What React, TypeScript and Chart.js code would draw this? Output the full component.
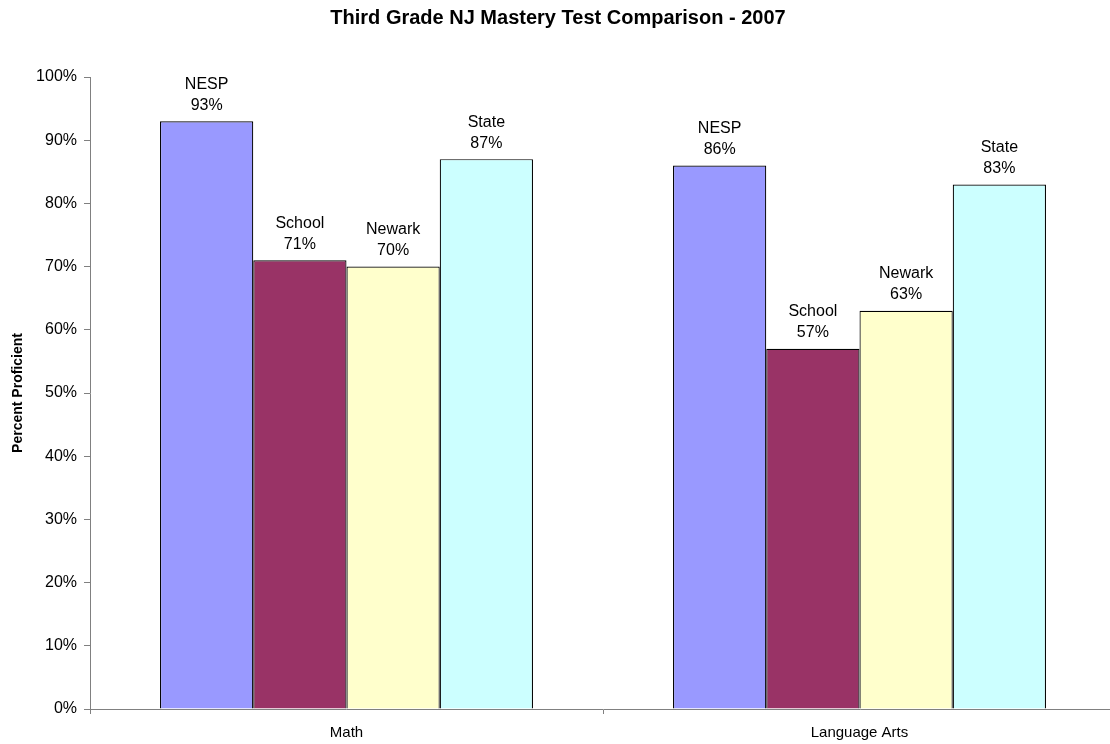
import React, { useEffect, useRef } from "react";
import { Chart, registerables } from "chart.js";

Chart.register(...registerables);

const categories = ["Math", "Language Arts"];
const seriesNames = ["NESP", "School", "Newark", "State"];
const nespValues = [93, 86];
const schoolValues = [71, 57];
const newarkValues = [70, 63];
const stateValues = [87, 83];
const seriesColors = ["#9999FF", "#993366", "#FFFFCC", "#CCFFFF"];
const yTickValues = [0, 10, 20, 30, 40, 50, 60, 70, 80, 90, 100];

const FONT = "'Liberation Sans', Arial, sans-serif";

const barLabelPlugin = {
  id: "barLabels",
  afterDatasetsDraw(chart: any) {
    const ctx = chart.ctx;
    ctx.save();
    ctx.font = `16px ${FONT}`;
    ctx.fillStyle = "#000";
    ctx.textAlign = "center";
    ctx.textBaseline = "bottom";
    chart.data.datasets.forEach((ds: any, i: number) => {
      const meta = chart.getDatasetMeta(i);
      meta.data.forEach((el: any, j: number) => {
        const v = ds.data[j];
        ctx.fillText(`${v}%`, el.x, el.y - 8);
        ctx.fillText(ds.label, el.x, el.y - 29);
      });
    });
    ctx.restore();
  },
};

export default function App() {
  const ref = useRef<HTMLCanvasElement | null>(null);
  useEffect(() => {
    if (!ref.current) return;
    const all = [nespValues, schoolValues, newarkValues, stateValues];
    const chart = new Chart(ref.current, {
      type: "bar",
      data: {
        labels: categories,
        datasets: all.map((d, i) => ({
          label: seriesNames[i],
          data: d,
          backgroundColor: seriesColors[i],
          borderColor: "#000",
          borderWidth: 1.2,
          categoryPercentage: 0.727,
          barPercentage: 1,
        })),
      },
      options: {
        responsive: false,
        animation: false,
        devicePixelRatio: 1,
        layout: { padding: { left: 0, right: 4, top: 0, bottom: 0 } },
        plugins: {
          legend: { display: false },
          tooltip: { enabled: false },
          title: {
            display: true,
            text: "Third Grade NJ Mastery Test Comparison - 2007",
            color: "#000",
            font: { family: FONT, size: 20, weight: "bold", lineHeight: 1.2 },
            padding: { top: 6, bottom: 47 },
          },
        },
        scales: {
          x: {
            afterFit: (s: any) => {
              s.height = 35;
            },
            grid: {
              drawOnChartArea: false,
              drawTicks: true,
              tickLength: 5,
              color: "#808080",
              offset: true,
            },
            border: { color: "#808080", width: 1 },
            ticks: {
              color: "#000",
              font: { family: FONT, size: 15 },
              padding: 10,
            },
          },
          y: {
            min: 0,
            max: 100,
            afterFit: (s: any) => {
              s.width = 90;
            },
            afterBuildTicks: (s: any) => {
              s.ticks = yTickValues.map((v) => ({ value: v }));
            },
            grid: {
              drawOnChartArea: false,
              drawTicks: true,
              tickLength: 6,
              color: "#808080",
            },
            border: { color: "#808080", width: 1 },
            ticks: {
              color: "#000",
              font: { family: FONT, size: 16 },
              padding: 7,
              callback: (v: any) => `${v}%`,
            },
            title: {
              display: true,
              text: "Percent Proficient",
              color: "#000",
              font: { family: FONT, size: 14, weight: "bold" },
              padding: { top: 10, bottom: 0 },
            },
          },
        },
      },
      plugins: [barLabelPlugin],
    } as any);
    return () => chart.destroy();
  }, []);
  return (
    <div
      style={{
        position: "fixed",
        left: 0,
        top: 0,
        width: 1110,
        height: 744,
        overflow: "hidden",
        background: "#fff",
      }}
    >
      <canvas ref={ref} width={1120} height={744} style={{ width: 1120, height: 744, display: "block" }} />
    </div>
  );
}
